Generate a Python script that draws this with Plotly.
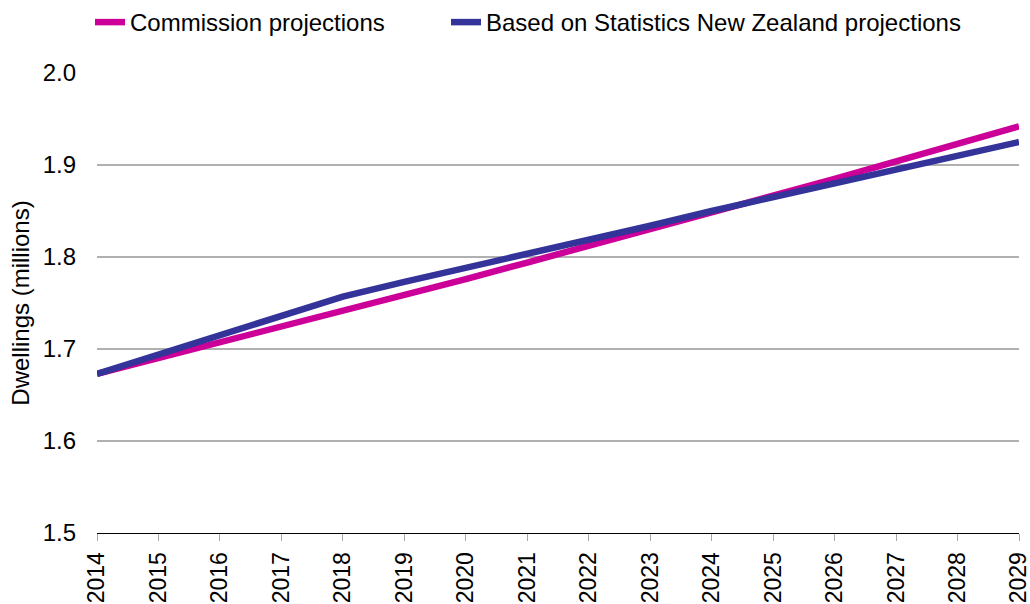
import plotly.graph_objects as go

years = list(range(2014, 2030))
commission = [1.673, 1.690, 1.707, 1.724, 1.742, 1.759, 1.776, 1.794,
              1.812, 1.830, 1.848, 1.866, 1.885, 1.904, 1.923, 1.942]
statsnz = [1.673, 1.694, 1.715, 1.736, 1.757, 1.773, 1.788, 1.804,
           1.819, 1.834, 1.850, 1.865, 1.880, 1.895, 1.910, 1.925]
series_names = ["Commission projections", "Based on Statistics New Zealand projections"]
y_ticks = [1.5, 1.6, 1.7, 1.8, 1.9, 2.0]

FONT = "Arial, Liberation Sans, sans-serif"
FS = 24

fig = go.Figure()
fig.add_trace(go.Scatter(x=years, y=commission, mode="lines", name=series_names[0],
                         line=dict(color="#CC0099", width=6.5), legend="legend"))
fig.add_trace(go.Scatter(x=years, y=statsnz, mode="lines", name=series_names[1],
                         line=dict(color="#333399", width=6.5), legend="legend2"))

legend_common = dict(orientation="h", xref="container", yref="container",
                     y=1.0, xanchor="left", yanchor="top",
                     font=dict(size=FS, family=FONT, color="black"),
                     bgcolor="rgba(0,0,0,0)")

fig.update_layout(
    width=1030, height=604,
    margin=dict(l=97, r=11, t=73, b=71),
    paper_bgcolor="white", plot_bgcolor="white",
    font=dict(family=FONT, size=FS, color="black"),
    showlegend=True,
    legend=dict(x=90 / 1030, **legend_common),
    legend2=dict(x=446 / 1030, **legend_common),
    xaxis=dict(range=[min(years), max(years)], tickmode="array", tickvals=years,
               ticktext=[str(y) for y in years], tickangle=-90,
               tickfont=dict(size=23),
               showgrid=False, zeroline=False, showline=True, linecolor="black",
               linewidth=1, ticks="outside", ticklen=7, tickcolor="#A6A6A6",
               tickwidth=1, ticklabelstandoff=2, ticklabeloverflow="allow",
               automargin=False, fixedrange=True),
    xaxis2=dict(range=[min(years), max(years)], overlaying="x", anchor="y",
                side="bottom", tickmode="array", tickvals=years,
                showticklabels=False, showgrid=False, zeroline=False,
                showline=False, ticks="inside", ticklen=7, tickcolor="#A6A6A6",
                tickwidth=1, automargin=False),
    yaxis=dict(range=[1.5, 2.0], tickmode="array", tickvals=y_ticks,
               ticktext=[f"{v:.1f}" for v in y_ticks],
               showgrid=True, gridcolor="#B0B0B0", gridwidth=2,
               zeroline=False, showline=False, ticks="",
               ticklabelstandoff=20, automargin=False,
               title=dict(text="Dwellings (millions)", standoff=6,
                          font=dict(size=FS))),
)

fig.write_html("out.html")
